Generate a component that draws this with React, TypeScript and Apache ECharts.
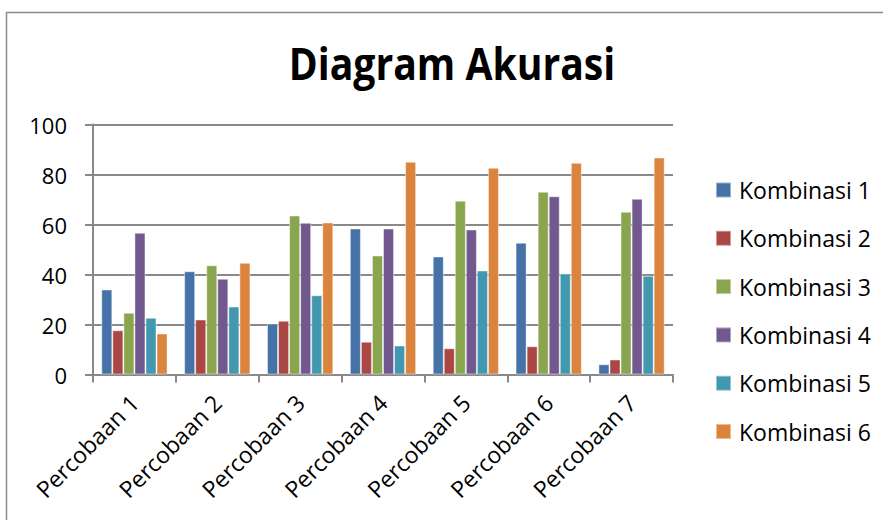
import React, { useEffect, useRef } from "react";
import * as echarts from "echarts";

const categories = ["Percobaan 1", "Percobaan 2", "Percobaan 3", "Percobaan 4", "Percobaan 5", "Percobaan 6", "Percobaan 7"];
const seriesNames = ["Kombinasi 1", "Kombinasi 2", "Kombinasi 3", "Kombinasi 4", "Kombinasi 5", "Kombinasi 6"];
const kombinasi1 = [34, 41.3, 20.4, 58.4, 47.2, 52.7, 4.1];
const kombinasi2 = [17.7, 22, 21.5, 13.1, 10.5, 11.3, 6];
const kombinasi3 = [24.7, 43.7, 63.6, 47.6, 69.5, 73.1, 65.1];
const kombinasi4 = [56.7, 38.3, 60.7, 58.4, 58, 71.3, 70.3];
const kombinasi5 = [22.7, 27.2, 31.7, 11.6, 41.6, 40.4, 39.5];
const kombinasi6 = [16.4, 44.7, 60.8, 85.1, 82.7, 84.7, 86.8];
const seriesValues = [kombinasi1, kombinasi2, kombinasi3, kombinasi4, kombinasi5, kombinasi6];
const colors = ["#4572A7", "#AA4643", "#89A54E", "#71588F", "#4198AF", "#DB843D"];
const yMin = 0;
const yMax = 100;
const yInterval = 20;

export default function App() {
  const ref = useRef<HTMLDivElement>(null);
  useEffect(() => {
    if (!ref.current) return;
    const chart = echarts.init(ref.current, null, { renderer: "svg" });
    const gray = "#898989";
    chart.setOption({
      animation: false,
      backgroundColor: "#ffffff",
      color: colors,
      graphic: [
        {
          type: "rect",
          shape: { x: 6.5, y: 12.5, width: 920, height: 560 },
          style: { fill: "none", stroke: "#8a8a8a", lineWidth: 1.5 },
          silent: true,
          z: -1,
        },
        {
          type: "text",
          x: 452,
          y: 62,
          scaleX: 0.87,
          style: {
            text: "Diagram Akurasi",
            font: 'bold 45px "Open Sans"',
            fill: "#000000",
            align: "center",
            verticalAlign: "middle",
          },
        },
      ],
      legend: {
        orient: "vertical",
        left: 715,
        top: 178,
        padding: 0,
        itemWidth: 15,
        itemHeight: 15,
        itemGap: 24.3,
        icon: "rect",
        data: seriesNames,
        textStyle: {
          fontFamily: "Open Sans",
          fontSize: 23,
          lineHeight: 24,
          color: "#000000",
          padding: [0, 0, 0, 3],
        },
      },
      grid: { left: 93, right: 210, top: 124.5, bottom: 145.5, containLabel: false },
      xAxis: {
        type: "category",
        data: categories,
        axisLine: { show: true, lineStyle: { color: gray, width: 2 } },
        axisTick: { show: true, length: 8, lineStyle: { color: gray, width: 2 } },
        axisLabel: {
          rotate: 45,
          interval: 0,
          margin: 24,
          fontFamily: "Open Sans",
          fontSize: 23,
          color: "#000000",
        },
      },
      yAxis: {
        type: "value",
        min: yMin,
        max: yMax,
        interval: yInterval,
        axisLine: { show: true, lineStyle: { color: gray, width: 2 } },
        axisTick: { show: true, length: 8, lineStyle: { color: gray, width: 2 } },
        splitLine: { show: true, lineStyle: { color: gray, width: 2 } },
        axisLabel: {
          margin: 26,
          fontFamily: "Open Sans",
          fontSize: 22,
          color: "#000000",
        },
      },
      series: seriesNames.map((name, i) => ({
        name,
        type: "bar",
        data: seriesValues[i],
        barGap: "0%",
        barCategoryGap: "20%",
        itemStyle: { color: colors[i], borderColor: "rgba(255,255,255,0.45)", borderWidth: 1 },
      })),
    });
    return () => chart.dispose();
  }, []);
  return <div ref={ref} style={{ position: "fixed", left: 0, top: 0, width: 883, height: 520 }} />;
}
